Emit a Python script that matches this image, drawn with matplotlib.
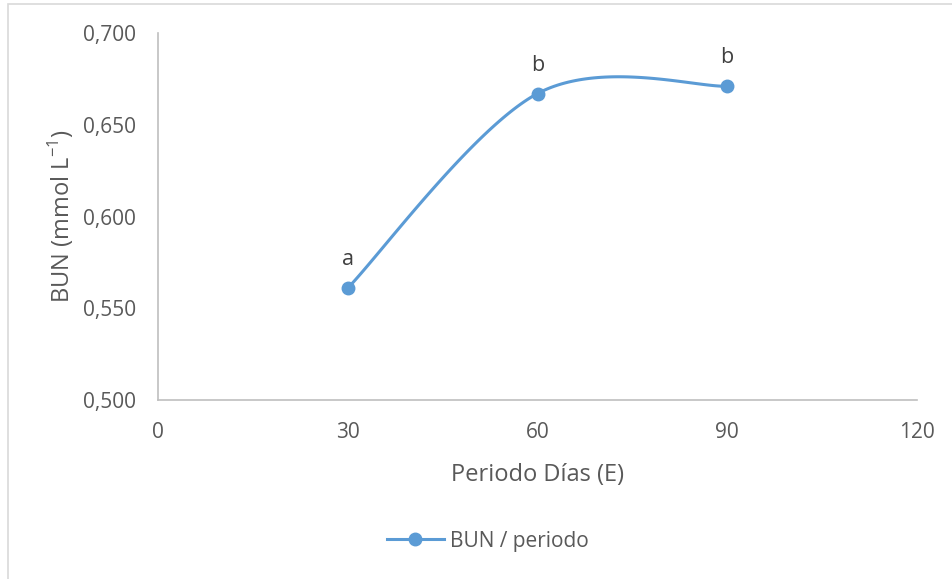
import numpy as np
import matplotlib
matplotlib.use("Agg")
import matplotlib.pyplot as plt
from matplotlib.ticker import FuncFormatter
from matplotlib.patches import Rectangle

# data
periodo = [30, 60, 90]
bun = [0.561, 0.667, 0.671]
letras = ["a", "b", "b"]
x_ticks = [0, 30, 60, 90, 120]
y_ticks = [0.500, 0.550, 0.600, 0.650, 0.700]

plt.rcParams["font.family"] = ["Open Sans", "DejaVu Sans"]
plt.rcParams["mathtext.fontset"] = "custom"
plt.rcParams["mathtext.rm"] = "Open Sans"
gris = "#595959"
azul = "#5B9BD5"


def suavizar(xs, ys, n=60):
    # bezier con tangentes tipo catmull-rom (como la linea suavizada de Excel)
    xs = np.asarray(xs, float)
    ys = np.asarray(ys, float)
    out_x, out_y = [], []
    for i in range(len(xs) - 1):
        i0 = max(i - 1, 0)
        i3 = min(i + 2, len(xs) - 1)
        p0 = np.array([xs[i], ys[i]])
        p3 = np.array([xs[i + 1], ys[i + 1]])
        c1 = p0 + (np.array([xs[i + 1], ys[i + 1]]) - np.array([xs[i0], ys[i0]])) / 6
        c2 = p3 - (np.array([xs[i3], ys[i3]]) - np.array([xs[i], ys[i]])) / 6
        t = np.linspace(0, 1, n)[:, None]
        pts = (1 - t) ** 3 * p0 + 3 * (1 - t) ** 2 * t * c1 + 3 * (1 - t) * t ** 2 * c2 + t ** 3 * p3
        out_x.extend(pts[:, 0])
        out_y.extend(pts[:, 1])
    return out_x, out_y


fig = plt.figure(figsize=(9.52, 5.79), dpi=100)
ax = fig.add_axes([158 / 952, 1 - 400 / 579, (917 - 158) / 952, (400 - 33) / 579])

sx, sy = suavizar(periodo, bun)
ax.plot(sx, sy, color=azul, lw=2.2, solid_capstyle="round", zorder=2)
ax.plot(periodo, bun, "o", color=azul, ms=9, zorder=3)
for x, y, l in zip(periodo, bun, letras):
    ax.annotate(l, (x, y), xytext=(0, 16.5), textcoords="offset points",
                ha="center", va="baseline", fontsize=15.5, color="#404040")

ax.set_xlim(0, 120)
ax.set_ylim(0.5, 0.7)
ax.set_xticks(x_ticks)
ax.set_yticks(y_ticks)
ax.yaxis.set_major_formatter(FuncFormatter(lambda v, p: f"{v:.3f}".replace(".", ",")))
ax.tick_params(axis="y", length=0, labelsize=15, labelcolor=gris, pad=16)
ax.tick_params(axis="x", length=0, labelsize=15, labelcolor=gris, pad=16)
for s in ["top", "right"]:
    ax.spines[s].set_visible(False)
for s in ["left", "bottom"]:
    ax.spines[s].set_color("#BFBFBF")
    ax.spines[s].set_linewidth(1.2)

ax.set_xlabel("Periodo Días (E)", fontsize=17, color=gris, labelpad=14)
ax.set_ylabel("BUN (mmol L$^{\\mathrm{-1}}$)", fontsize=17, color=gris, labelpad=5)

h, = ax.plot([], [], "-o", color=azul, lw=2.2, ms=9, label="BUN / periodo")
fig.legend(handles=[h], loc="center", bbox_to_anchor=(488 / 952, 1 - 541 / 579),
           frameon=False, fontsize=15, labelcolor=gris, handlelength=2.7, handletextpad=0.3)

# borde del grafico
fig.patches.append(Rectangle((8 / 952, -0.1), 1.1, 1 - 4 / 579 + 0.1, transform=fig.transFigure,
                             fill=False, edgecolor="#D9D9D9", lw=1.2))

fig.savefig("out.png", dpi=100)
